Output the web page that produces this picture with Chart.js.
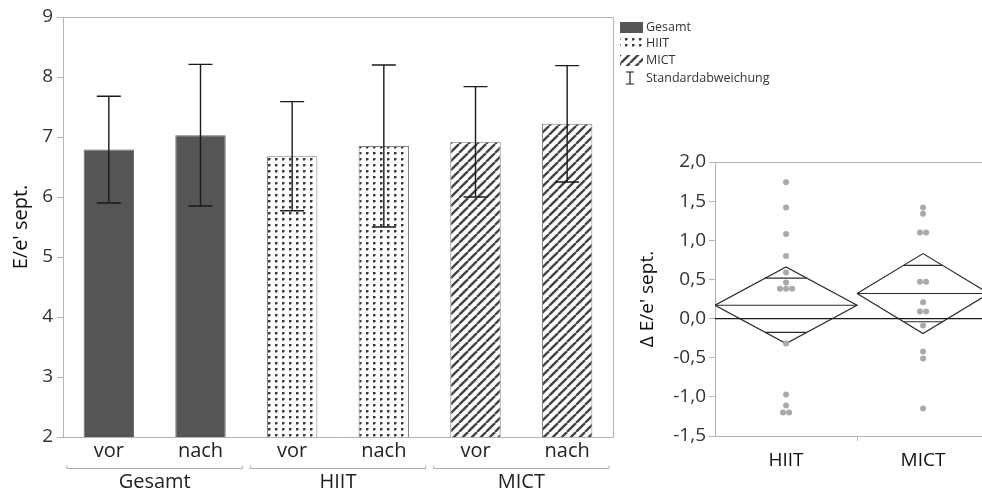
<!DOCTYPE html>
<html><head><meta charset="utf-8">
<script src="https://cdn.jsdelivr.net/npm/chart.js@4.4.1/dist/chart.umd.min.js"></script>
<style>
html,body{margin:0;padding:0;background:#fff;overflow:hidden;width:982px;height:500px;}
#left{position:absolute;left:0;top:0;}
#right{position:absolute;left:630px;top:130px;}
</style></head><body>
<canvas id="left" width="800" height="500"></canvas>
<canvas id="right" width="370" height="370"></canvas>
<script>
// ---------- data: left bar chart ----------
const barLabels = ['vor', 'nach', 'vor', 'nach', 'vor', 'nach'];
const groupNames = ['Gesamt', 'HIIT', 'MICT'];
const barGroup = [0, 0, 1, 1, 2, 2];
const meanValues = [6.79, 7.03, 6.68, 6.85, 6.92, 7.22];
const sdValues = [0.89, 1.18, 0.91, 1.35, 0.92, 0.97];
const yTicksLeft = [2, 3, 4, 5, 6, 7, 8, 9];
const legendLabels = ['Gesamt', 'HIIT', 'MICT', 'Standardabweichung'];

// ---------- data: right delta chart ----------
const deltaGroups = ['HIIT', 'MICT'];
const hiitDelta = [1.74, 1.42, 1.08, 0.80, 0.59, 0.46, 0.38, 0.38, 0.38, -0.32, -0.97, -1.11, -1.20, -1.20];
const mictDelta = [1.42, 1.34, 1.10, 1.10, 0.47, 0.47, 0.21, 0.09, 0.09, -0.09, -0.42, -0.51, -1.15];
const diamondMean = [0.17, 0.32];
const diamondLow = [-0.32, -0.19];
const diamondHigh = [0.66, 0.83];
const yTicksRight = [-1.5, -1.0, -0.5, 0.0, 0.5, 1.0, 1.5, 2.0];

const FONT = "'Open Sans', 'Noto Sans', sans-serif";

// ---------- patterns ----------
function makePattern(kind) {
  const c = document.createElement('canvas');
  const g = c.getContext('2d');
  if (kind === 'dots') {
    c.width = 7; c.height = 6;
    g.fillStyle = '#fff'; g.fillRect(0, 0, 7, 6);
    g.fillStyle = '#3a3a3a'; g.fillRect(2, 2, 2, 2);
    g.fillStyle = '#9a9a9a'; g.fillRect(4, 2, 1, 2); g.fillRect(2, 4, 2, 1);
  } else {
    const s = 9;
    c.width = s; c.height = s;
    g.fillStyle = '#fff'; g.fillRect(0, 0, s, s);
    g.strokeStyle = '#444'; g.lineWidth = 2.4;
    for (const o of [-s, 0, s]) {
      g.beginPath(); g.moveTo(o, s); g.lineTo(o + s, 0); g.stroke();
    }
  }
  return g.createPattern(c, 'repeat');
}
const fills = ['#555555', makePattern('dots'), makePattern('hatch')];
const borders = ['#666666', '#7c7c7c', '#7c7c7c'];

// ---------- plugins for the left chart ----------
const errorBarPlugin = {
  id: 'errorBars',
  afterDatasetsDraw(chart) {
    const ctx = chart.ctx, y = chart.scales.y;
    const meta = chart.getDatasetMeta(0);
    ctx.save();
    ctx.strokeStyle = '#1a1a1a';
    ctx.lineWidth = 1.4;
    meta.data.forEach((bar, i) => {
      const x = bar.x;
      const yt = y.getPixelForValue(meanValues[i] + sdValues[i]);
      const yb = y.getPixelForValue(meanValues[i] - sdValues[i]);
      const cw = 12;
      ctx.beginPath();
      ctx.moveTo(x, yt); ctx.lineTo(x, yb);
      ctx.moveTo(x - cw, yt); ctx.lineTo(x + cw, yt);
      ctx.moveTo(x - cw, yb); ctx.lineTo(x + cw, yb);
      ctx.stroke();
    });
    ctx.restore();
  }
};

const framePlugin = {
  id: 'frame',
  afterDraw(chart) {
    const {ctx, chartArea: a} = chart;
    ctx.save();
    ctx.strokeStyle = '#b4b4b4';
    ctx.lineWidth = 1;
    ctx.beginPath();
    ctx.moveTo(a.left, a.top + 0.5); ctx.lineTo(a.right + 0.5, a.top + 0.5);
    ctx.lineTo(a.right + 0.5, a.bottom);
    ctx.stroke();
    ctx.restore();
  }
};

const groupPlugin = {
  id: 'groups',
  afterDraw(chart) {
    const {ctx, chartArea: a} = chart;
    const x = chart.scales.x;
    const half = (x.getPixelForValue(1) - x.getPixelForValue(0)) / 2;
    const by = a.bottom + 31.5;
    ctx.save();
    groupNames.forEach((name, g) => {
      const idx = barGroup.map((v, i) => v === g ? i : -1).filter(i => i >= 0);
      const l = x.getPixelForValue(idx[0]) - half + 4;
      const r = x.getPixelForValue(idx[idx.length - 1]) + half - 4;
      ctx.strokeStyle = '#adadad';
      ctx.lineWidth = 1;
      ctx.beginPath();
      ctx.moveTo(l, by - 3); ctx.lineTo(l, by); ctx.lineTo(r, by); ctx.lineTo(r, by - 3);
      ctx.stroke();
      ctx.fillStyle = '#222';
      ctx.font = '20px ' + FONT;
      ctx.textAlign = 'center';
      ctx.textBaseline = 'middle';
      ctx.fillText(name, (l + r) / 2, a.bottom + 45);
    });
    ctx.restore();
  }
};

const legendPlugin = {
  id: 'customLegend',
  afterDraw(chart) {
    const {ctx, chartArea: a} = chart;
    const x0 = a.right + 7;
    const ys = [27, 43, 60, 78];
    ctx.save();
    ctx.font = '12.5px ' + FONT;
    ctx.textBaseline = 'middle';
    ctx.textAlign = 'left';
    legendLabels.forEach((lab, i) => {
      const yc = ys[i];
      if (i < 3) {
        ctx.fillStyle = fills[i];
        ctx.fillRect(x0, yc - 5, 23, 11);
      } else {
        ctx.strokeStyle = '#1a1a1a';
        ctx.lineWidth = 1.2;
        ctx.beginPath();
        ctx.moveTo(x0 + 10, yc - 6); ctx.lineTo(x0 + 10, yc + 6);
        ctx.moveTo(x0 + 6, yc - 6); ctx.lineTo(x0 + 14, yc - 6);
        ctx.moveTo(x0 + 6, yc + 6); ctx.lineTo(x0 + 14, yc + 6);
        ctx.stroke();
      }
      ctx.fillStyle = '#333';
      ctx.fillText(lab, x0 + 26, yc);
    });
    ctx.restore();
  }
};

new Chart(document.getElementById('left'), {
  type: 'bar',
  data: {
    labels: barLabels,
    datasets: [{
      data: meanValues,
      backgroundColor: barGroup.map(g => fills[g]),
      borderColor: barGroup.map(g => borders[g]),
      borderWidth: 1,
      barPercentage: 0.55,
      categoryPercentage: 1
    }]
  },
  options: {
    responsive: false, animation: false, devicePixelRatio: 1,
    layout: {padding: {left: 0, top: 17, right: 187, bottom: 0}},
    plugins: {legend: {display: false}, tooltip: {enabled: false}},
    scales: {
      x: {
        grid: {display: false, drawTicks: false},
        border: {display: true, color: '#b4b4b4'},
        ticks: {font: {family: FONT, size: 20}, color: '#222', padding: 2},
        afterFit(s) { s.height = 63; }
      },
      y: {
        min: 2, max: 9,
        afterBuildTicks(s) { s.ticks = yTicksLeft.map(v => ({value: v})); },
        grid: {drawOnChartArea: false, drawTicks: true, tickLength: 6, color: '#b4b4b4'},
        border: {display: true, color: '#b4b4b4'},
        ticks: {font: {family: FONT, size: 19}, color: '#333', padding: 4},
        title: {display: true, text: "E/e' sept.", font: {family: FONT, size: 20}, color: '#111', padding: {top: 9, bottom: 0}},
        afterFit(s) { s.width = 63; }
      }
    }
  },
  plugins: [errorBarPlugin, framePlugin, groupPlugin, legendPlugin]
});

// ---------- right chart ----------
const groupValues = [hiitDelta, mictDelta];
const groupN = groupValues.map(v => v.length);
const groupStart = groupN.map((n, i) => groupN.slice(0, i).reduce((s, k) => s + k, 0));
const groupEnd = groupStart.map((s, i) => s + groupN[i]);
const groupCenter = groupStart.map((s, i) => (s + groupEnd[i]) / 2);
const totalN = groupEnd[groupEnd.length - 1];

function spreadPoints(values, center) {
  return values.map((v, i) => {
    const same = values.map((w, j) => [w, j]).filter(p => p[0] === v);
    const k = same.findIndex(p => p[1] === i);
    return {x: center + (k - (same.length - 1) / 2) * 0.6, y: v};
  });
}

const LINE = '#2a2a2a';
const rightDatasets = [];
groupValues.forEach((vals, g) => {
  rightDatasets.push({
    data: spreadPoints(vals, groupCenter[g]),
    pointRadius: 3, pointBackgroundColor: '#a9a9a9', pointBorderWidth: 0, showLine: false
  });
});
rightDatasets.push({
  data: [{x: 0, y: 0}, {x: totalN, y: 0}],
  showLine: true, borderColor: '#1a1a1a', borderWidth: 1.3, pointRadius: 0
});
groupValues.forEach((vals, g) => {
  const x0 = groupStart[g], x1 = groupEnd[g], xc = groupCenter[g];
  const m = diamondMean[g], lo = diamondLow[g], hi = diamondHigh[g];
  const line = {showLine: true, borderColor: LINE, borderWidth: 1.2, pointRadius: 0, fill: false};
  rightDatasets.push(Object.assign({}, line, {
    data: [{x: x0, y: m}, {x: xc, y: hi}, {x: x1, y: m}, {x: xc, y: lo}, {x: x0, y: m}]
  }));
  rightDatasets.push(Object.assign({}, line, {data: [{x: x0, y: m}, {x: x1, y: m}]}));
  const r = 1 / Math.SQRT2;
  const hw = (x1 - x0) / 2 * (1 - r);
  const up = m + (hi - m) * r, dn = m - (m - lo) * r;
  rightDatasets.push(Object.assign({}, line, {data: [{x: xc - hw, y: up}, {x: xc + hw, y: up}]}));
  rightDatasets.push(Object.assign({}, line, {data: [{x: xc - hw, y: dn}, {x: xc + hw, y: dn}]}));
});

const rightFrame = {
  id: 'rframe',
  afterDraw(chart) {
    const {ctx, chartArea: a} = chart;
    ctx.save();
    ctx.strokeStyle = '#b4b4b4';
    ctx.lineWidth = 1;
    ctx.beginPath();
    ctx.moveTo(a.left, a.top + 0.5); ctx.lineTo(a.right, a.top + 0.5);
    ctx.stroke();
    ctx.restore();
  }
};

new Chart(document.getElementById('right'), {
  type: 'scatter',
  data: {datasets: rightDatasets},
  options: {
    responsive: false, animation: false, devicePixelRatio: 1,
    layout: {padding: {left: 0, top: 32, right: 11, bottom: 0}},
    plugins: {legend: {display: false}, tooltip: {enabled: false}},
    scales: {
      x: {
        type: 'linear', min: 0, max: totalN,
        afterBuildTicks(s) {
          s.ticks = [{value: groupCenter[0]}, {value: groupEnd[0]}, {value: groupCenter[1]}];
        },
        grid: {
          drawOnChartArea: false, drawTicks: true, tickLength: 5,
          color: (c) => (c.tick && c.tick.value === groupEnd[0]) ? '#b4b4b4' : 'rgba(0,0,0,0)'
        },
        border: {display: true, color: '#b4b4b4'},
        ticks: {
          font: {family: FONT, size: 19}, color: '#111', padding: 8, maxRotation: 0, autoSkip: false,
          callback: (v) => { const i = groupCenter.indexOf(v); return i >= 0 ? deltaGroups[i] : ''; }
        },
        afterFit(s) { s.height = 64; }
      },
      y: {
        min: -1.5, max: 2.0,
        afterBuildTicks(s) { s.ticks = yTicksRight.map(v => ({value: v})); },
        grid: {drawOnChartArea: false, drawTicks: true, tickLength: 6, color: '#b4b4b4'},
        border: {display: true, color: '#b4b4b4'},
        ticks: {
          font: {family: FONT, size: 19}, color: '#333', padding: 3,
          callback: (v) => Number(v).toFixed(1).replace('.', ',')
        },
        title: {display: true, text: "\u0394 E/e' sept.", font: {family: FONT, size: 19}, color: '#111', padding: {top: 6, bottom: 0}},
        afterFit(s) { s.width = 85; }
      }
    }
  },
  plugins: [rightFrame]
});
</script>
</body></html>
